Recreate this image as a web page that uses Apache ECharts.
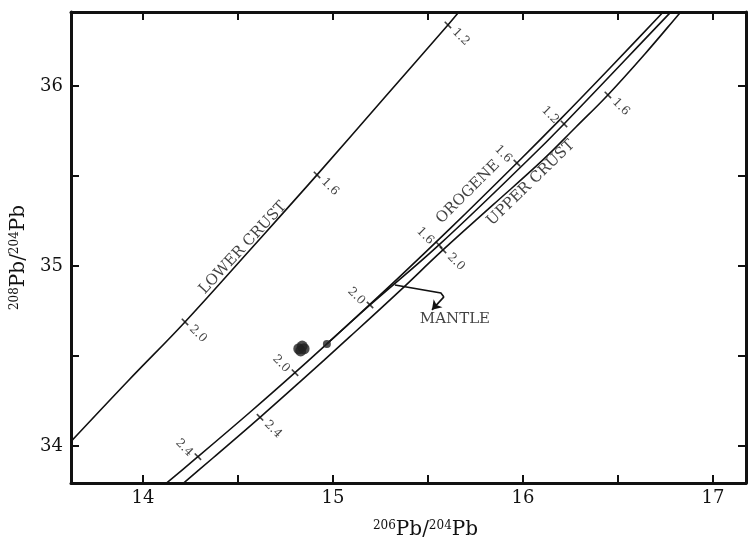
<!DOCTYPE html>
<html><head><meta charset="utf-8">
<script src="https://cdn.jsdelivr.net/npm/echarts@6/dist/echarts.min.js"></script>
<style>html,body{margin:0;padding:0;background:#fff}#c{width:748px;height:540px}</style>
</head><body><div id="c"></div>
<script>
// Growth curves (206Pb/204Pb, 208Pb/204Pb)
const lowerCrust = [[13.584,33.983],[13.921,34.361],[14.221,34.689],[14.563,35.089],[14.916,35.506],[15.274,35.939],[15.605,36.339],[15.684,36.439]];
const orogene = [[14.037,33.717],[14.289,33.940],[14.563,34.187],[14.800,34.407],[15.089,34.684],[15.353,34.942],[15.616,35.207],[15.968,35.572],[16.195,35.813],[16.458,36.100],[16.732,36.404],[16.800,36.482]];
const mantle = [[14.968,34.567],[15.195,34.783],[15.558,35.117],[16.021,35.583],[16.216,35.789],[16.774,36.406],[16.826,36.461]];
const upperCrust = [[14.142,33.728],[14.221,33.800],[14.368,33.933],[14.616,34.159],[14.826,34.356],[15.089,34.607],[15.353,34.863],[15.579,35.089],[15.842,35.339],[16.105,35.589],[16.279,35.772],[16.447,35.950],[16.642,36.178],[16.826,36.406],[16.879,36.472]];
// Age marks (Ga)
const lowerCrustTicks = [[14.221,34.689,'2.0'],[14.916,35.506,'1.6'],[15.605,36.339,'1.2']];
const orogeneTicks = [[14.289,33.940,'2.4'],[14.800,34.407,'2.0'],[15.968,35.572,'1.6']];
const mantleTicks = [[15.195,34.783,'2.0'],[15.558,35.117,'1.6'],[16.216,35.789,'1.2']];
const upperCrustTicks = [[14.616,34.159,'2.4'],[15.579,35.089,'2.0'],[16.447,35.950,'1.6']];
// Samples
const samples = [[14.820,34.540],[14.838,34.555],[14.830,34.528],[14.848,34.540]];
const mantleStart = [[14.968,34.567]];
// Arrow to mantle curve label
const mantleArrow = [[15.326,34.894],[15.568,34.850],[15.584,34.828],[15.521,34.756]];

const FONT = 'DejaVu Serif';
const INK = '#111';
const chart = echarts.init(document.getElementById('c'), null, {renderer:'canvas'});

function curve(name, data){
  return {type:'line', name, data, symbol:'none', showSymbol:false, smooth:0.4,
    lineStyle:{color:INK, width:1.6}, clip:true, silent:true, z:3};
}
function ticks(data, side){
  return {type:'scatter', data, symbol:'rect', symbolSize:[1.6,9], symbolRotate:45,
    itemStyle:{color:INK}, silent:true, z:4,
    label:{show:true, formatter:p=>p.data[2], rotate:-45, position:'inside',
      align:'center', verticalAlign:'middle',
      offset: side==='left' ? [-16,3.5] : [17.7,-0.7],
      fontFamily:FONT, fontSize:12, color:INK}};
}
function annot(text, coord, rot){
  return {type:'scatter', data:[coord], symbolSize:0, silent:true, z:5,
    label:{show:true, formatter:text, rotate:rot, position:'inside', align:'center', verticalAlign:'middle',
      fontFamily:FONT, fontSize:15, color:INK}};
}
const axisCommon = {
  type:'value', splitLine:{show:false},
  axisLine:{show:true, onZero:false, lineStyle:{color:INK, width:3}},
  axisTick:{show:true, inside:true, length:8, lineStyle:{color:INK, width:2}}
};
const intLabel = v => (Math.abs(v-Math.round(v))<1e-6 ? String(Math.round(v)) : '');
const richName = {s:{fontFamily:FONT, fontSize:12, verticalAlign:'top', color:INK}, b:{fontFamily:FONT, fontSize:20, color:INK}};

chart.setOption({
  animation:false,
  backgroundColor:'#fff',
  grid:{left:71, right:2, top:12, bottom:57, containLabel:false, outerBoundsMode:'none'},
  xAxis:[
    Object.assign({}, axisCommon, {min:13.621, max:17.174, splitNumber:7, position:'bottom',
      axisLabel:{formatter:intLabel, fontFamily:FONT, fontSize:18, color:INK, margin:6},
      name:'{s|206}{b|Pb/}{s|204}{b|Pb}', nameLocation:'middle', nameGap:37,
      nameTextStyle:{rich:richName, padding:[0,0,0,34]}}),
    Object.assign({}, axisCommon, {min:13.621, max:17.174, splitNumber:7, position:'top', axisLabel:{show:false}})
  ],
  yAxis:[
    Object.assign({}, axisCommon, {min:33.794, max:36.411, splitNumber:5, position:'left',
      axisLabel:{formatter:intLabel, fontFamily:FONT, fontSize:18, color:INK, margin:8},
      name:'{s|208}{b|Pb/}{s|204}{b|Pb}', nameLocation:'middle', nameGap:28, nameRotate:90,
      nameTextStyle:{rich:richName, padding:[0,20,0,0]}}),
    Object.assign({}, axisCommon, {min:33.794, max:36.411, splitNumber:5, position:'right', axisLabel:{show:false}})
  ],
  series:[
    curve('Lower crust', lowerCrust),
    curve('Orogene', orogene),
    curve('Mantle', mantle),
    curve('Upper crust', upperCrust),
    ticks(lowerCrustTicks, 'right'),
    ticks(orogeneTicks, 'left'),
    ticks(mantleTicks, 'left'),
    ticks(upperCrustTicks, 'right'),
    {type:'scatter', data:samples, symbol:'circle', symbolSize:11, itemStyle:{color:'#222'}, z:6, silent:true},
    {type:'scatter', data:mantleStart, symbol:'circle', symbolSize:8, itemStyle:{color:'#222'}, z:6, silent:true},
    {type:'lines', coordinateSystem:'cartesian2d', polyline:true, silent:true, z:5,
      lineStyle:{color:INK, width:1.6, opacity:1},
      data:[{coords:mantleArrow.slice(0,3)}]},
    {type:'lines', coordinateSystem:'cartesian2d', silent:true, z:5,
      symbol:['none','arrow'], symbolSize:9,
      lineStyle:{color:INK, width:1.6, opacity:1},
      data:[{coords:mantleArrow.slice(2,4)}]},
    annot('LOWER CRUST', [14.526,35.100], 47),
    annot('OROGENE', [15.711,35.411], 45),
    annot('UPPER CRUST', [16.042,35.461], 44),
    annot('MANTLE', [15.642,34.706], 0)
  ]
});
</script></body></html>
